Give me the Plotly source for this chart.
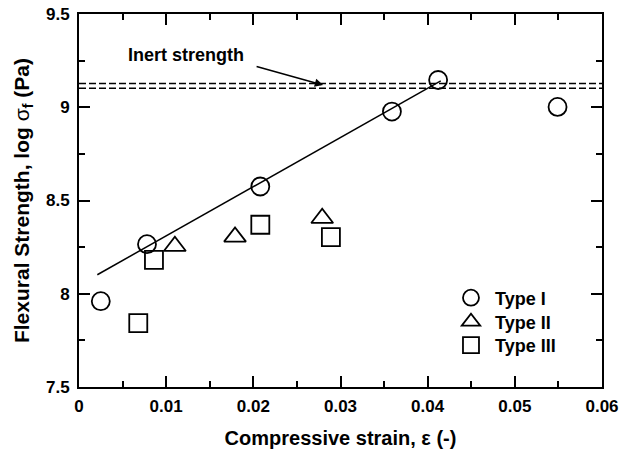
import plotly.graph_objects as go

# Data
type1_x = [0.0025, 0.0078, 0.0208, 0.0359, 0.0412, 0.0549]
type1_y = [7.96, 8.266, 8.575, 8.977, 9.146, 9.002]
type2_x = [0.011, 0.0179, 0.0279]
type2_y = [8.255, 8.305, 8.405]
type3_x = [0.0068, 0.0086, 0.0208, 0.0289]
type3_y = [7.843, 8.182, 8.370, 8.304]
fit_x = [0.0021, 0.0415]
fit_y = [8.102, 9.141]
inert_strength = [9.102, 9.128]

x_ticks = [0, 0.01, 0.02, 0.03, 0.04, 0.05, 0.06]
x_ticklabels = ["0", "0.01", "0.02", "0.03", "0.04", "0.05", "0.06"]
y_ticks = [7.5, 8, 8.5, 9, 9.5]
y_ticklabels = ["7.5", "8", "8.5", "9", "9.5"]

FONT = "Liberation Sans"

fig = go.Figure()

fig.add_trace(go.Scatter(x=fit_x, y=fit_y, mode="lines",
                         line=dict(color="black", width=1.5), showlegend=False))

mk = dict(color="black", size=18, line=dict(color="black", width=1.8))
fig.add_trace(go.Scatter(x=type1_x, y=type1_y, mode="markers", name="<b>Type I</b>",
                         legend="legend", marker=dict(symbol="circle-open", **mk)))
fig.add_trace(go.Scatter(x=type2_x, y=type2_y, mode="markers", name="<b>Type II</b>",
                         legend="legend2",
                         marker=dict(symbol="triangle-up-open", color="black", size=19,
                                     line=dict(color="black", width=1.8))))
fig.add_trace(go.Scatter(x=type3_x, y=type3_y, mode="markers", name="<b>Type III</b>",
                         legend="legend3", marker=dict(symbol="square-open", **mk)))

for v in inert_strength:
    fig.add_hline(y=v, line=dict(color="black", width=1.5, dash="7px,3px"))

fig.add_annotation(x=0.0054, y=9.28, xref="x", yref="y", text="<b>Inert strength</b>",
                   showarrow=False, xanchor="left", yanchor="middle",
                   font=dict(family=FONT, size=18, color="black"))
fig.add_annotation(x=0.0280, y=9.119, ax=0.0202, ay=9.221, xref="x", yref="y",
                   axref="x", ayref="y", text="", showarrow=True,
                   arrowhead=2, arrowsize=1.1, arrowwidth=1.5, arrowcolor="black")

axis_common = dict(showline=True, linecolor="black", linewidth=2, mirror="ticks",
                   ticks="inside", ticklen=11, tickwidth=2, tickcolor="black",
                   showgrid=False, zeroline=False, automargin=False,
                   tickfont=dict(family=FONT, size=17, color="black"))

fig.update_xaxes(range=[0, 0.06], tickvals=x_ticks,
                 ticktext=["<b>%s</b>" % t for t in x_ticklabels],
                 minor=dict(ticks="inside", ticklen=6, tickwidth=2, tickcolor="black", dtick=0.005),
                 ticklabelstandoff=3,
                 title=dict(text="<b>Compressive strain, ε (-)</b>",
                            font=dict(family=FONT, size=20, color="black"), standoff=16),
                 **axis_common)
fig.update_yaxes(range=[7.5, 9.5], tickvals=y_ticks,
                 ticktext=["<b>%s</b>" % t for t in y_ticklabels],
                 minor=dict(ticks="inside", ticklen=6, tickwidth=2, tickcolor="black", dtick=0.25),
                 ticklabelstandoff=4,
                 title=dict(text="<b>Flexural Strength, log </b>σ<b><sub>f</sub> (Pa)</b>",
                            font=dict(family=FONT, size=21, color="black"), standoff=11),
                 **axis_common)

leg_common = dict(x=0.7036, xanchor="left", yanchor="middle", bgcolor="rgba(0,0,0,0)",
                  font=dict(family=FONT, size=18, color="black"), itemwidth=38)
fig.update_layout(
    width=619, height=452,
    margin=dict(l=79, r=17, t=14, b=65),
    plot_bgcolor="white", paper_bgcolor="white",
    legend=dict(y=0.2386, **leg_common),
    legend2=dict(y=0.1743, **leg_common),
    legend3=dict(y=0.1113, **leg_common),
)

fig.write_html("out.html", config={"displayModeBar": False},
               post_script="document.body.style.margin='0';")
